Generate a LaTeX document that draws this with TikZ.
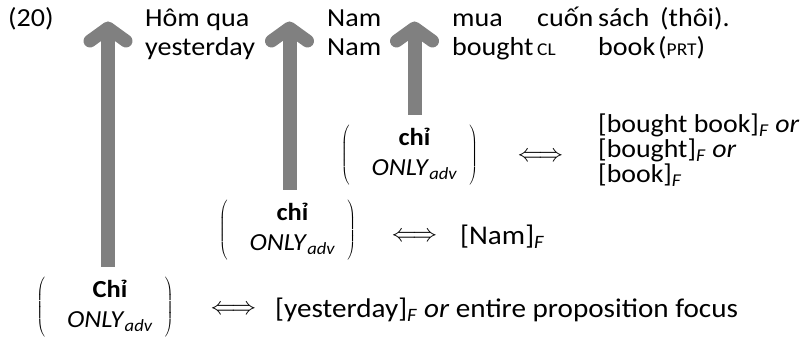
\documentclass[tikz,border=0pt]{standalone}
\usepackage{fontspec}
\setmainfont{Carlito}[FakeStretch=1.08]
\usetikzlibrary{calc}
\definecolor{arrowgray}{HTML}{808080}
\newcommand\glosssc[1]{{\fontsize{18}{18}\selectfont #1}}
\newcommand\onlyadv{\textit{ONLY}\textsubscript{\textit{adv}}}
\newcommand\focusF{\textsubscript{\textit{F}}}
\newcommand\onlyblock[1]{$\left(\hspace{22pt}\begin{tabular}{@{}c@{}}\textbf{#1}\\ \onlyadv\end{tabular}\hspace{12pt}\right)$}
\tikzset{
  x=1pt, y=-1pt,
  txt/.style={anchor=base west, inner sep=0pt, font=\fontsize{26}{30}\selectfont},
  focustxt/.style={txt, font=\fontsize{27}{30}\selectfont},
  block/.style={txt, align=left, font=\fontsize{25.8}{25}\selectfont},
  onlynode/.style={anchor=center, inner sep=0pt, font=\fontsize{24.5}{30}\selectfont},
  iff/.style={anchor=center, inner sep=0pt, font=\fontsize{25}{30}\selectfont},
  shaft/.style={draw=arrowgray, line width=14pt},
  head/.style={draw=arrowgray, line width=13pt, line cap=round, line join=round},
}
\begin{document}
\begin{tikzpicture}
\useasboundingbox (0,0) rectangle (804,339);

% example number and the glossed sentence
\node[txt] (num) at (8,27) {(20)};
\node[txt] (w1) at (145,27) {Hôm qua};
\node[txt] (g1) at (145,56) {yesterday};
\node[txt] (w2) at (327,27) {Nam};
\node[txt] (g2) at (327,56) {Nam};
\node[txt] (w3) at (452,27) {mua};
\node[txt] (g3) at (452,56) {bought};
\node[txt] (w4) at (537,27) {cuốn};
\node[txt] (g4) at (537,56) {\glosssc{CL}};
\node[txt] (w5) at (598,27) {sách};
\node[txt] (g5) at (598,56) {book};
\node[txt] (w6) at (660,27) {(thôi).};
\node[txt] (g6) at (658,56) {(\glosssc{PRT})};

% the three positions of the focus adverb
\node[onlynode] (o3) at (409.5,155) {\onlyblock{chỉ}};
\node[onlynode] (o2) at (287.5,230) {\onlyblock{chỉ}};
\node[onlynode] (o1) at (105,307) {\onlyblock{Chỉ}};

% equivalences with the possible foci
\node[iff] (e3) at (540.5,157) {$\Longleftrightarrow$};
\node[block] (f3) at (598,183) {[bought book]\focusF{} \textit{or}\\{}[bought]\focusF{} \textit{or}\\{}[book]\focusF};
\node[iff] (e2) at (414.5,237) {$\Longleftrightarrow$};
\node[focustxt] (f2) at (460,245) {[Nam]\focusF};
\node[iff] (e1) at (233.5,310) {$\Longleftrightarrow$};
\node[focustxt] (f1) at (275,318) {[yesterday]\focusF{} \textit{or} entire proposition focus};

% arrows from each adverb position up to the sentence
\coordinate (t1) at (108,28);
\coordinate (t2) at (289.5,28);
\coordinate (t3) at (414.5,28);
\foreach \i in {1,2,3} {
  \draw[shaft, shorten <=10pt] (t\i |- o\i.north) -- (t\i);
  \draw[head] ($(t\i)+(-18,13)$) -- (t\i) -- ($(t\i)+(18,13)$);
}
\end{tikzpicture}
\end{document}
